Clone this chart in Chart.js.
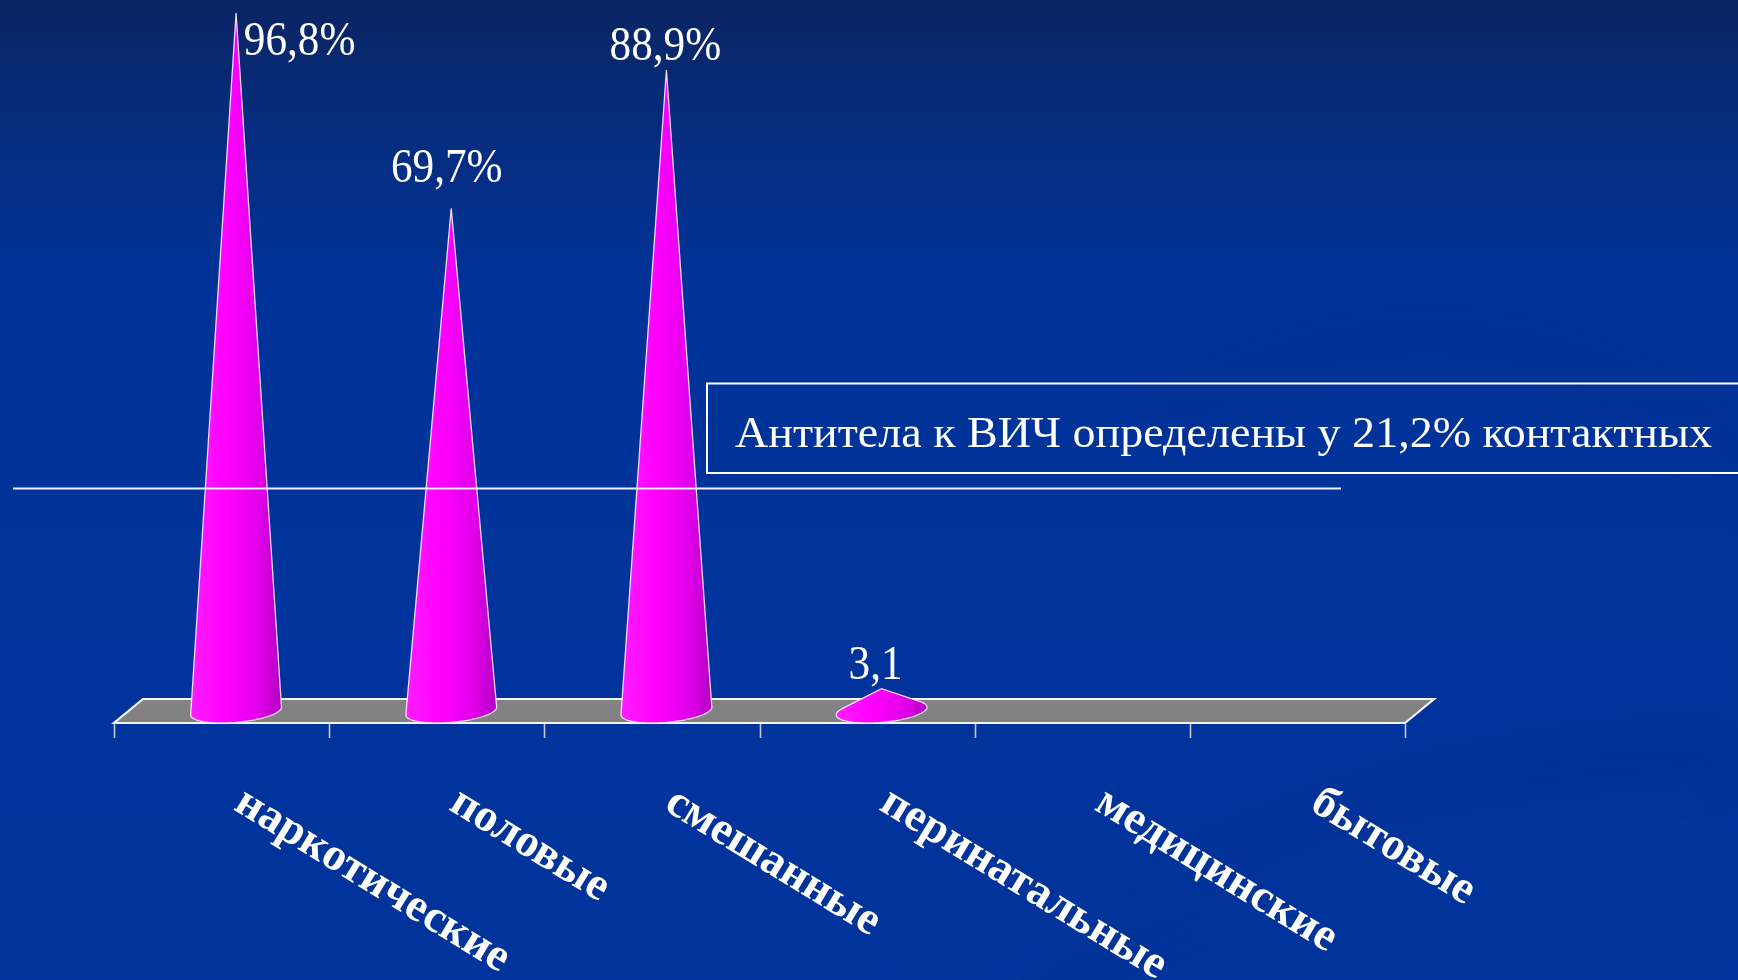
<!DOCTYPE html>
<html>
<head>
<meta charset="utf-8">
<script src="https://cdn.jsdelivr.net/npm/chart.js@4.4.1/dist/chart.umd.min.js"></script>
<style>
  html, body { margin: 0; padding: 0; background: #00349a; overflow: hidden; }
  canvas { display: block; }
</style>
</head>
<body>
<canvas id="chart" width="1738" height="980"></canvas>
<script>
// Routes of transmission and share of HIV-positive contacts per route
const categories = ['наркотические', 'половые', 'смешанные', 'перинатальные', 'медицинские', 'бытовые'];
const shares = [96.8, 69.7, 88.9, 3.1, null, null];
const valueLabels = ['96,8%', '69,7%', '88,9%', '3,1', '', ''];
const noteText = 'Антитела к ВИЧ определены у 21,2% контактных';
const yMax = 98.6;

// Placement of each value label relative to its cone tip (px)
const labelShiftX = [63.5, -4.5, -1, -6, 0, 0];
const labelShiftY = [42, -26, -10, -10, 0, 0];

// Oblique projection of the floor depth: half-depth vector
const DEPTH = { x: 14.5, y: -12 };
const SERIF = '"Liberation Serif", "Times New Roman", serif';

function hull(points) {
  const p = points.slice().sort((a, b) => a[0] - b[0] || a[1] - b[1]);
  const cross = (o, a, b) => (a[0] - o[0]) * (b[1] - o[1]) - (a[1] - o[1]) * (b[0] - o[0]);
  const lower = [], upper = [];
  for (const pt of p) {
    while (lower.length >= 2 && cross(lower[lower.length - 2], lower[lower.length - 1], pt) <= 0) lower.pop();
    lower.push(pt);
  }
  for (let i = p.length - 1; i >= 0; i--) {
    const pt = p[i];
    while (upper.length >= 2 && cross(upper[upper.length - 2], upper[upper.length - 1], pt) <= 0) upper.pop();
    upper.push(pt);
  }
  upper.pop(); lower.pop();
  return lower.concat(upper);
}

function drawCone(ctx, cx, baseY, tipY, rx) {
  const pts = [[cx, tipY]];
  for (let k = 0; k < 96; k++) {
    const t = (k / 96) * Math.PI * 2;
    pts.push([cx + rx * Math.cos(t) + DEPTH.x * Math.sin(t), baseY + DEPTH.y * Math.sin(t)]);
  }
  const h = hull(pts);
  const span = Math.hypot(rx, DEPTH.x);
  const g = ctx.createLinearGradient(cx - span, 0, cx + span, 0);
  g.addColorStop(0, '#ff1cff');
  g.addColorStop(0.4, '#ff00ff');
  g.addColorStop(0.75, '#e200ea');
  g.addColorStop(1, '#b400c4');
  ctx.save();
  ctx.beginPath();
  h.forEach((p, i) => (i ? ctx.lineTo(p[0], p[1]) : ctx.moveTo(p[0], p[1])));
  ctx.closePath();
  ctx.fillStyle = g;
  ctx.fill();
  ctx.lineWidth = 1.3;
  ctx.strokeStyle = 'rgba(255,235,255,0.9)';
  ctx.stroke();
  ctx.restore();
}

const backdrop = {
  id: 'backdrop',
  beforeDraw(chart) {
    const { ctx, width, height } = chart;
    ctx.save();
    const g = ctx.createLinearGradient(0, 0, 0, height);
    g.addColorStop(0, '#0b2463');
    g.addColorStop(0.1, '#072b78');
    g.addColorStop(0.3, '#00339a');
    g.addColorStop(1, '#00349c');
    ctx.fillStyle = g;
    ctx.fillRect(0, 0, width, height);
    // faint sweeping bands in the lower right
    const band = (x, y, rX, rY, rot, a0, a1, w, col) => {
      ctx.beginPath();
      ctx.ellipse(x, y, rX, rY, rot, a0, a1);
      ctx.lineWidth = w;
      ctx.strokeStyle = col;
      ctx.stroke();
    };
    ctx.filter = 'blur(18px)';
    band(1500, 1250, 900, 420, -0.18, Math.PI * 1.05, Math.PI * 1.6, 70, 'rgba(90,140,255,0.025)');
    band(1650, 1150, 700, 380, -0.1, Math.PI * 1.1, Math.PI * 1.55, 40, 'rgba(0,20,90,0.08)');
    band(1450, 700, 420, 360, 0.2, Math.PI * 1.2, Math.PI * 1.75, 50, 'rgba(0,20,100,0.07)');
    ctx.restore();
  }
};

const cones = {
  id: 'cones',
  afterDatasetsDraw(chart) {
    const { ctx, chartArea } = chart;
    const meta = chart.getDatasetMeta(0);
    const base = chart.scales.y.getPixelForValue(0);
    const step = (chartArea.right - chartArea.left) / categories.length;

    // floor slab
    const fl = chartArea.left - DEPTH.x, fr = chartArea.right - DEPTH.x;
    ctx.save();
    ctx.beginPath();
    ctx.moveTo(fl, base - DEPTH.y);
    ctx.lineTo(fr, base - DEPTH.y);
    ctx.lineTo(fr + 2 * DEPTH.x, base + DEPTH.y);
    ctx.lineTo(fl + 2 * DEPTH.x, base + DEPTH.y);
    ctx.closePath();
    ctx.fillStyle = '#828282';
    ctx.fill();
    ctx.lineWidth = 2.2;
    ctx.strokeStyle = '#f4f4f8';
    ctx.stroke();

    // category ticks under the front edge
    ctx.lineWidth = 1.6;
    ctx.strokeStyle = '#c4c8d8';
    for (let i = 0; i <= categories.length; i++) {
      const x = Math.round(fl + i * step) + 0.5;
      ctx.beginPath();
      ctx.moveTo(x, base - DEPTH.y + 1);
      ctx.lineTo(x, base - DEPTH.y + 15);
      ctx.stroke();
    }
    ctx.restore();

    meta.data.forEach((bar, i) => {
      if (shares[i] == null) return;
      drawCone(ctx, bar.x, base, bar.y, step * 0.2);
    });
  }
};

const annotations = {
  id: 'annotations',
  afterDraw(chart) {
    const { ctx } = chart;
    const meta = chart.getDatasetMeta(0);
    const base = chart.scales.y.getPixelForValue(0);

    // horizontal rule
    ctx.save();
    ctx.strokeStyle = '#eef0fa';
    ctx.lineWidth = 2;
    ctx.beginPath();
    ctx.moveTo(13, 488.5);
    ctx.lineTo(1341, 488.5);
    ctx.stroke();

    // boxed note
    ctx.strokeStyle = '#ffffff';
    ctx.lineWidth = 2;
    ctx.strokeRect(707, 383.5, 1100, 89.5);
    ctx.font = '44px ' + SERIF;
    ctx.fillStyle = '#ffffff';
    ctx.textBaseline = 'alphabetic';
    const w = ctx.measureText(noteText).width;
    ctx.translate(735, 447);
    ctx.scale(977 / w, 1);
    ctx.fillText(noteText, 0, 0);
    ctx.restore();

    // value labels above the cones
    meta.data.forEach((bar, i) => {
      if (!valueLabels[i]) return;
      ctx.save();
      ctx.translate(bar.x + labelShiftX[i], bar.y + labelShiftY[i]);
      ctx.scale(0.9, 1);
      ctx.font = '48px ' + SERIF;
      ctx.fillStyle = '#ffffff';
      ctx.textAlign = 'center';
      ctx.textBaseline = 'alphabetic';
      ctx.fillText(valueLabels[i], 0, 0);
      ctx.restore();
    });

    // slanted category names
    meta.data.forEach((bar, i) => {
      ctx.save();
      ctx.translate(bar.x - DEPTH.x + 11, base - DEPTH.y + 86);
      ctx.rotate(31.5 * Math.PI / 180);
      ctx.font = 'bold 46px ' + SERIF;
      ctx.fillStyle = '#ffffff';
      ctx.textAlign = 'left';
      ctx.textBaseline = 'alphabetic';
      ctx.fillText(categories[i], 0, 0);
      ctx.restore();
    });
  }
};

new Chart(document.getElementById('chart'), {
  type: 'bar',
  data: {
    labels: categories,
    datasets: [{
      data: shares,
      backgroundColor: 'rgba(0,0,0,0)',
      borderWidth: 0
    }]
  },
  options: {
    responsive: false,
    devicePixelRatio: 1,
    animation: false,
    layout: { padding: { left: 128.5, right: 318.5, top: 0, bottom: 269 } },
    plugins: { legend: { display: false }, tooltip: { enabled: false } },
    scales: {
      x: { display: false, offset: true },
      y: { display: false, min: 0, max: yMax }
    }
  },
  plugins: [backdrop, cones, annotations]
});
</script>
</body>
</html>
